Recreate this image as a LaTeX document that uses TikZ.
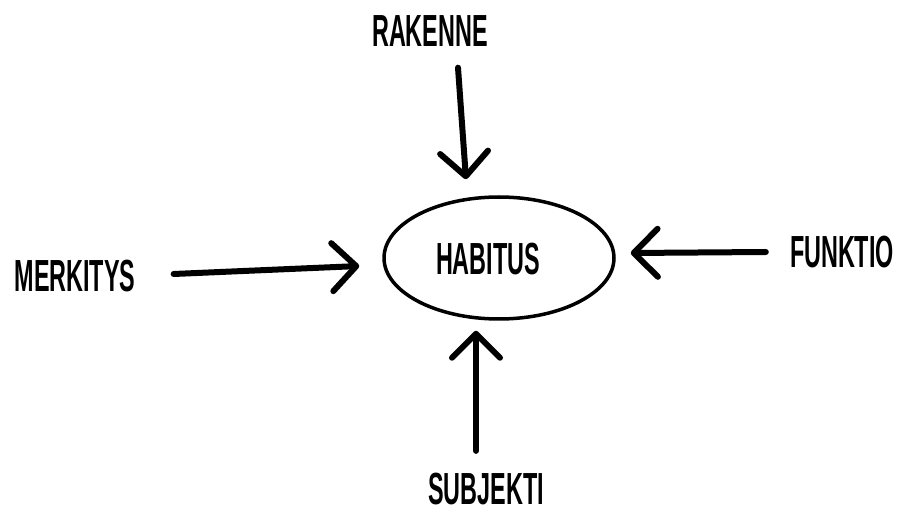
\documentclass[tikz,border=0pt]{standalone}
\usepackage{fontspec}
\setmainfont[FakeStretch=0.52]{Liberation Sans}
\usetikzlibrary{arrows.meta,shapes.geometric}
\tikzstyle{word} = [inner sep=0pt, font=\fontsize{45}{45}\selectfont\bfseries]
\tikzstyle{core} = [ellipse, draw, line width=3.5pt, minimum width=230pt, minimum height=122pt]
\tikzstyle{pil} = [draw, line width=6pt, line cap=round, -{Straight Barb[length=24pt, width=48pt, round]}]

\begin{document}
\begin{tikzpicture}[x=1pt, y=-1pt]
    \useasboundingbox (0,0) rectangle (898,513);
    % Draw the words and the ellipse.
    \node [core] (habitus) at (499,258) {};
    \node [word] (habituslabel) at (488,259) {HABITUS};
    \node [word] (rakenne) at (430,31) {RAKENNE};
    \node [word] (merkitys) at (75,276) {MERKITYS};
    \node [word] (funktio) at (842,252) {FUNKTIO};
    \node [word] (subjekti) at (486,489) {SUBJEKTI};
    % Rakenne -> Habitus.
    \path [pil] ([shift={(28pt,-21pt)}]rakenne.south) -- ([shift={(-33pt,16pt)}]habitus.north);
    % Merkitys -> Habitus.
    \path [pil] ([shift={(38pt,2pt)}]merkitys.east) -- ([shift={(-23pt,-8pt)}]habitus.west);
    % Funktio -> Habitus.
    \path [pil] ([shift={(-24pt,0pt)}]funktio.west) -- ([shift={(15pt,5pt)}]habitus.east);
    % Subjekti -> Habitus.
    \path [pil] ([shift={(-10pt,22pt)}]subjekti.north) -- ([shift={(-23pt,-10pt)}]habitus.south);
\end{tikzpicture}
\end{document}
